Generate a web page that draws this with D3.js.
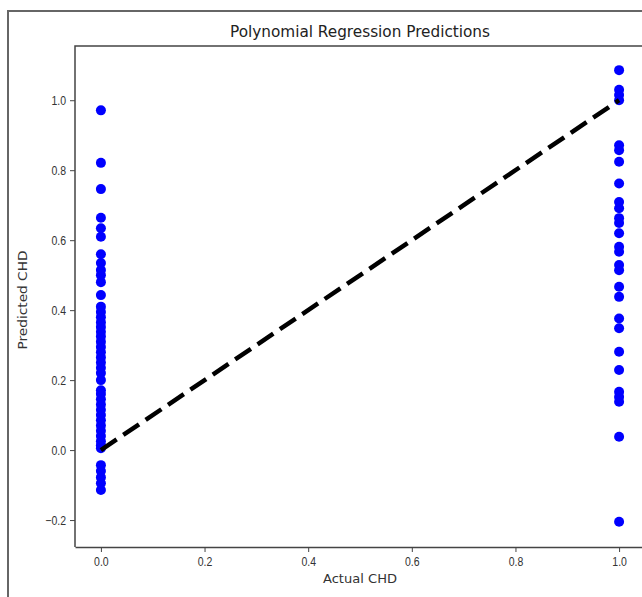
<!DOCTYPE html>
<html>
<head>
<meta charset="utf-8">
<script src="https://cdn.jsdelivr.net/npm/d3@7"></script>
<style>
  body { margin: 0; background: #fff; }
  svg { display: block; font-family: "DejaVu Sans", sans-serif; }
  .axis text { fill: #333; font-size: 12.5px; }
  .axis line, .axis path { stroke: #444; }
</style>
</head>
<body>
<div class="svg-container"></div>
<script>
// predictions for rows where actual CHD = 0
const predAt0 = [0.971, 0.821, 0.746, 0.664, 0.634, 0.61, 0.56, 0.535, 0.515, 0.50, 0.48,
  0.443, 0.41, 0.395, 0.38, 0.365, 0.352, 0.338, 0.325, 0.31, 0.295, 0.28, 0.265, 0.25,
  0.235, 0.22, 0.2, 0.171, 0.16, 0.145, 0.13, 0.115, 0.1, 0.085, 0.07, 0.055, 0.04, 0.025,
  0.014, 0.005, -0.043, -0.06, -0.078, -0.095, -0.114];
// predictions for rows where actual CHD = 1
const predAt1 = [1.086, 1.03, 1.015, 1.0, 0.871, 0.857, 0.824, 0.762, 0.709, 0.691, 0.663,
  0.649, 0.62, 0.581, 0.567, 0.529, 0.514, 0.467, 0.438, 0.376, 0.348, 0.281, 0.229,
  0.167, 0.152, 0.138, 0.038, -0.205];
const xTicks = [0.0, 0.2, 0.4, 0.6, 0.8, 1.0];
const yTicks = [-0.2, 0.0, 0.2, 0.4, 0.6, 0.8, 1.0];
const idealLine = [[0, 0], [1, 1]];

const W = 642, H = 597;
const plot = { left: 75, right: 645, top: 46, bottom: 547 };

const svg = d3.select(".svg-container").append("svg")
  .attr("width", W)
  .attr("height", H);

// outer frame of the screenshot
svg.append("path")
  .attr("d", "M8,597 V11 H642")
  .attr("fill", "none")
  .attr("stroke", "#666")
  .attr("stroke-width", 2);

let x = d3.scaleLinear().domain([-0.05, 1.05]).range([plot.left, plot.right]);
let y = d3.scaleLinear().domain([-0.277, 1.155]).range([plot.bottom, plot.top]);

// squeeze text a little, the reference is horizontally compressed
function squeeze(sel, k) {
  sel.each(function () {
    const w = this.getComputedTextLength();
    d3.select(this).attr("textLength", w * k).attr("lengthAdjust", "spacingAndGlyphs");
  });
}

// spines
svg.append("path")
  .attr("d", `M${plot.left},${plot.bottom} V${plot.top} H${W}`)
  .attr("fill", "none")
  .attr("stroke", "#444")
  .attr("stroke-width", 1.5);

const gx = svg.append("g")
  .attr("class", "axis")
  .attr("transform", "translate(0," + plot.bottom + ")")
  .call(d3.axisBottom(x).tickValues(xTicks).tickFormat(d3.format(".1f")).tickSize(5).tickSizeOuter(0).tickPadding(5));
gx.select(".domain").attr("stroke-width", 1.5);
gx.selectAll("text").call(squeeze, 0.84);

const gy = svg.append("g")
  .attr("class", "axis")
  .attr("transform", "translate(" + plot.left + ",0)")
  .call(d3.axisLeft(y).tickValues(yTicks)
    .tickFormat(d => d3.format(".1f")(d).replace("-", "\u2212"))
    .tickSize(5).tickSizeOuter(0).tickPadding(4));
gy.select(".domain").remove();
gy.selectAll("text").call(squeeze, 0.84);

// points
const pts = predAt0.map(v => ({ a: 0, p: v })).concat(predAt1.map(v => ({ a: 1, p: v })));
svg.selectAll(".dot")
  .data(pts)
  .enter().append("circle")
  .attr("class", "dot")
  .attr("r", 5)
  .attr("cx", d => x(d.a))
  .attr("cy", d => y(d.p))
  .attr("fill", "#0000ff");

// ideal prediction line
svg.append("path")
  .datum(idealLine)
  .attr("d", d3.line().x(d => x(d[0])).y(d => y(d[1])))
  .attr("fill", "none")
  .attr("stroke", "#000")
  .attr("stroke-width", 4.5)
  .attr("stroke-dasharray", "19,8");

// title and labels
svg.append("text")
  .attr("x", (plot.left + plot.right) / 2)
  .attr("y", 37)
  .attr("text-anchor", "middle")
  .attr("font-size", 16)
  .attr("fill", "#222")
  .attr("textLength", 260)
  .attr("lengthAdjust", "spacingAndGlyphs")
  .text("Polynomial Regression Predictions");

svg.append("text")
  .attr("x", (plot.left + plot.right) / 2)
  .attr("y", 583)
  .attr("text-anchor", "middle")
  .attr("font-size", 13)
  .attr("fill", "#333")
  .attr("textLength", 74)
  .attr("lengthAdjust", "spacingAndGlyphs")
  .text("Actual CHD");

svg.append("text")
  .attr("transform", "translate(27,300) rotate(-90)")
  .attr("text-anchor", "middle")
  .attr("font-size", 13)
  .attr("fill", "#333")
  .attr("textLength", 99)
  .attr("lengthAdjust", "spacingAndGlyphs")
  .text("Predicted CHD");
</script>
</body>
</html>
